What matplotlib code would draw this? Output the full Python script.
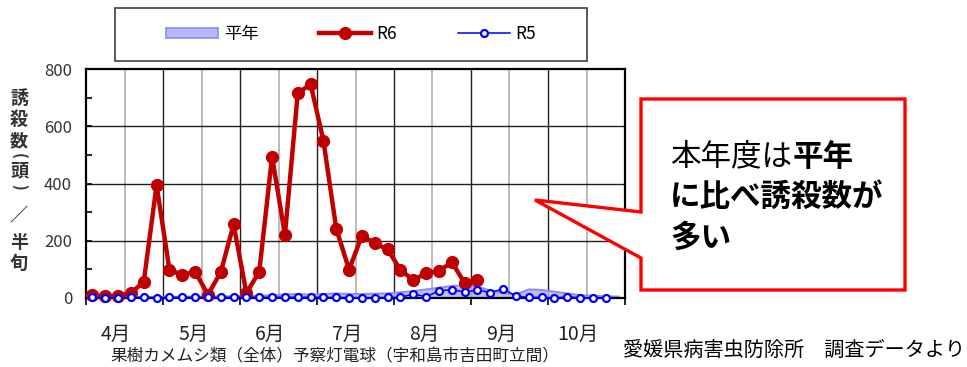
import numpy as np
import matplotlib
matplotlib.use("Agg")
import matplotlib.pyplot as plt
from matplotlib.patches import Polygon, Rectangle, Patch
from matplotlib.lines import Line2D

plt.rcParams['font.family'] = ['Noto Sans CJK JP', 'DejaVu Sans']

# 半旬ごとの誘殺数（4月1半旬〜10月6半旬）
months = ['4月', '5月', '6月', '7月', '8月', '9月', '10月']
heinen = [2, 2, 2, 3, 3, 4, 4, 5, 5, 6, 6, 6,
          7, 8, 10, 12, 14, 12, 14, 16, 14, 14, 15, 16,
          20, 24, 30, 36, 42, 44, 40, 26, 18, 12, 30, 28,
          22, 16, 10, 8, 6, 5]
r6 = [10, 6, 8, 17, 57, 394, 99, 80, 92, 12, 90, 257,
      17, 92, 494, 220, 715, 747, 550, 242, 99, 218, 191, 170,
      98, 63, 86, 94, 125, 53, 63]
r5 = [2, 1, 1, 2, 2, 1, 2, 2, 2, 3, 2, 2,
      3, 3, 2, 3, 2, 3, 2, 2, 1, 1, 1, 2,
      2, 14, 4, 25, 29, 21, 28, 19, 32, 7, 2, 2,
      0, 4, 1, 0, 0]

W, H = 967, 367
fig = plt.figure(figsize=(W / 100, H / 100), dpi=100)


def fx(px):
    return px / W


def fy(py):
    return 1 - py / H


ax = fig.add_axes([fx(86), fy(298), fx(625) - fx(86), fy(69) - fy(298)])

n_bins = 6 * len(months)
x_hn = np.arange(len(heinen)) + 0.5
x_r6 = np.arange(len(r6)) + 0.5
x_r5 = np.arange(len(r5)) + 0.5

# 平年（面）
ax.fill_between(x_hn, 0, heinen, color='#b4b8f6', alpha=0.9, lw=0, zorder=2)
ax.plot(x_hn, heinen, color='#8c8cf0', lw=1.4, zorder=2.1)

# R6, R5
ax.plot(x_r6, r6, color='#c00000', lw=3.2, marker='o', ms=8.5,
        mfc='#c00000', mec='#c00000', zorder=3, clip_on=False)
ax.plot(x_r5, r5, color='#0000ff', lw=1.1, marker='o', ms=5,
        mfc='white', mec='#0000ff', mew=1.6, zorder=4, clip_on=False)

ax.set_xlim(0, n_bins)
ax.set_ylim(0, 800)

# 罫線：月境界は黒、月中は灰色、縦軸は200ごと
for k in range(1, len(months)):
    ax.axvline(6 * k, color='#202020', lw=1.0, zorder=1)
for k in range(len(months)):
    ax.axvline(6 * k + 3, color='#bbbbbb', lw=1.4, zorder=0.9)
for v in (200, 400, 600):
    ax.axhline(v, color='#202020', lw=1.0, zorder=1)

for s in ax.spines.values():
    s.set_linewidth(1.6)
    s.set_color('black')

ax.set_yticks(np.arange(0, 801, 200))
ax.set_yticks(np.arange(100, 800, 200), minor=True)
ax.tick_params(axis='y', which='both', direction='in', length=4,
               width=1.2, labelsize=12, labelcolor='#333333', pad=10)

ax.set_xticks(np.arange(0, n_bins + 1, 6))
ax.set_xticklabels([])
ax.set_xticks(np.arange(len(months)) * 6 + 2.35, minor=True)
ax.set_xticklabels(months, minor=True)
ax.tick_params(axis='x', which='major', direction='out', length=5, width=1.2)
ax.tick_params(axis='x', which='minor', length=0, labelsize=14,
               labelcolor='#222222', pad=19)

# 縦書きの縦軸名（一文字ずつ、括弧は横倒し）
ylab = [('誘', 98, 0), ('殺', 120, 0), ('数', 141, 0), ('(', 156, -90),
        ('頭', 171, 0), (')', 187, -90), ('／', 216, 0), ('半', 242, 0),
        ('旬', 263, 0)]
for ch, yy, rot in ylab:
    fig.text(fx(19), fy(yy), ch, ha='center', va='center',
             fontsize=13 if rot == 0 else 11, rotation=rot,
             rotation_mode='anchor', fontweight='bold', color='#333333')

fig.text(fx(110), fy(357), '果樹カメムシ類（全体）予察灯電球（宇和島市吉田町立間）',
         ha='left', va='center', fontsize=12, color='#222222')

# 凡例
handles = [Patch(facecolor='#b4b8f6', edgecolor='#8c8cf0', lw=1.2),
           Line2D([], [], color='#c00000', lw=3.2, marker='o', ms=8.5),
           Line2D([], [], color='#0000ff', lw=1.1, marker='o', ms=5,
                  mfc='white', mew=1.6)]
fig.legend(handles, ['平年', 'R6', 'R5'], loc='center',
           bbox_to_anchor=(fx(351), fy(34)), ncol=3, frameon=False,
           fontsize=12.5, handlelength=3.0, handleheight=0.55,
           handletextpad=0.3, columnspacing=3.5, numpoints=1)
fig.add_artist(Rectangle((fx(115), fy(61)), fx(587) - fx(115), fy(8) - fy(61),
                         transform=fig.transFigure, fill=False,
                         edgecolor='#404040', lw=1.2))

# 吹き出し
callout = [(641, 99), (905, 99), (905, 290), (641, 290), (641, 258),
           (535, 200), (641, 212)]
fig.add_artist(Polygon([(fx(a), fy(b)) for a, b in callout], closed=True,
                       transform=fig.transFigure, facecolor='white',
                       edgecolor='#ff0000', lw=2.4, zorder=5))

fs = 22
em = fs / 72 * 100
fig.text(fx(670), fy(157), '本年度は', ha='left', va='center',
         fontsize=fs, color='black', zorder=6)
fig.text(fx(670 + 4 * em), fy(157), '平年', ha='left', va='center',
         fontsize=fs, fontweight='bold', color='black', zorder=6)
fig.text(fx(670), fy(197), 'に比べ誘殺数が', ha='left', va='center',
         fontsize=fs, fontweight='bold', color='black', zorder=6)
fig.text(fx(670), fy(238), '多い', ha='left', va='center',
         fontsize=fs, fontweight='bold', color='black', zorder=6)

fig.text(fx(965), fy(350), '愛媛県病害虫防除所　調査データより', ha='right',
         va='center', fontsize=14.5, color='black')

fig.savefig('out.png', dpi=100)
